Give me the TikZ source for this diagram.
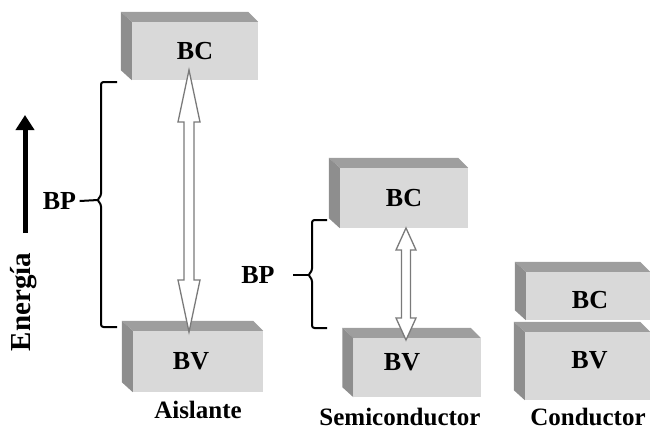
\documentclass[tikz,border=0pt]{standalone}
\usepackage{fontspec}
\setmainfont{Liberation Serif}
\usetikzlibrary{arrows.meta,calc,positioning}

\definecolor{bandfront}{HTML}{D9D9D9}
\definecolor{bandtop}{HTML}{9E9E9E}
\definecolor{bandside}{HTML}{8E8E8E}
\definecolor{gaparrow}{HTML}{7A7A7A}

% top and left faces of a band box
\newcommand{\bandsides}[1]{%
\fill[bandtop] (#1.north west) -- ++(-11,-10) -- ($(#1.north east)+(-10,-10)$) -- (#1.north east) -- cycle;
\fill[bandside] (#1.north west) -- ++(-11,-10) -- ($(#1.south west)+(-11,-10)$) -- (#1.south west) -- cycle;}

% hollow double arrow between two tips
\newcommand{\gapdarrow}[5]{%
\draw[gapline] (#1) -- ($(#1)+(#4,#5)$) -- ($(#1)+(#3,#5)$) -- ($(#2)+(#3,-#5)$) -- ($(#2)+(#4,-#5)$)
  -- (#2) -- ($(#2)+(-#4,-#5)$) -- ($(#2)+(-#3,-#5)$) -- ($(#1)+(-#3,#5)$) -- ($(#1)+(-#4,#5)$) -- cycle;}

\tikzset{
  band/.style={fill=bandfront, inner sep=0pt, minimum width=128pt, minimum height=60pt},
  gapline/.style={draw=gaparrow, fill=white, line width=1.3pt, line join=miter},
  brace/.style={line width=2pt, rounded corners=2.5pt},
  bpline/.style={line width=2pt},
  energy/.style={line width=5pt, -{Triangle[width=18pt,length=15pt]}},
  material/.style={anchor=base, inner sep=0pt, font=\bfseries\fontsize{25}{30}\selectfont},
}

\begin{document}
\begin{tikzpicture}[x=1pt, y=-1pt, font=\bfseries\fontsize{26}{30}\selectfont]
\useasboundingbox (0,0) rectangle (650,429);

% Aislante
\node[band, minimum width=126pt, minimum height=58pt, label={center:BC}] (bcA) at (195,51) {};
\bandsides{bcA}
\node[band, minimum width=130pt, minimum height=61pt, label={[xshift=-7pt]center:BV}] (bvA) at (198,361.5) {};
\bandsides{bvA}
\coordinate (aTop) at (189,70);
\coordinate (aBot) at (189,332);
\gapdarrow{aTop}{aBot}{5}{11}{52}
\draw[brace] (117,82) -- (101,82) -- (101,196) -- (97,200) -- (101,204) -- (101,327) -- (117,327);
\coordinate (aNotch) at (98,200);
\node (bpA) at (59.5,201) {BP};
\draw[bpline] (bpA.east) -- (aNotch);
\node[material] (aislante) at (198,418) {Aislante};

% Semiconductor
\node[band, label={center:BC}] (bcS) at (404,198) {};
\bandsides{bcS}
\node[band, minimum width=127pt, minimum height=59pt, label={[xshift=-15pt, yshift=5pt]center:BV}] (bvS) at (417,367.5) {};
\bandsides{bvS}
\coordinate (sTop) at (406,228);
\coordinate (sBot) at (406,340);
\gapdarrow{sTop}{sBot}{4.5}{10}{22}
\draw[brace] (327,220) -- (312,220) -- (312,271) -- (308,275) -- (312,279) -- (312,328) -- (327,328);
\coordinate (sNotch) at (309,275);
\node (bpS) at (258,275) {BP};
\draw[bpline] ([xshift=15pt]bpS.east) -- (sNotch);
\node[material] (semi) at (400,425) {Semiconductor};

% Conductor
\node[band, minimum width=124pt, minimum height=48pt, label={[xshift=2pt, yshift=-4pt]center:BC}] (bcC) at (588,296) {};
\bandsides{bcC}
\node[band, minimum width=125pt, minimum height=68pt, label={[xshift=2pt, yshift=6pt]center:BV}] (bvC) at (587.5,366) {};
\bandsides{bvC}
\node[material] (cond) at (588,425) {Conductor};

% energy axis
\coordinate (eBot) at (25,233);
\coordinate (eTop) at (25,115);
\draw[energy] (eBot) -- (eTop);
\node[rotate=90, font=\bfseries\fontsize{29}{30}\selectfont] (energia) at (24,302) {Energía};

\end{tikzpicture}
\end{document}
